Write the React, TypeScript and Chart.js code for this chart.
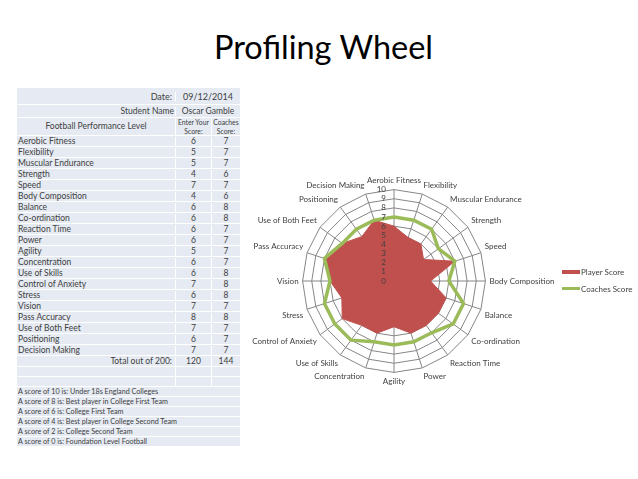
import { useEffect, useRef } from 'react'
import { Chart, registerables } from 'chart.js'

Chart.register(...registerables)

const categories = [
  'Aerobic Fitness', 'Flexibility', 'Muscular Endurance', 'Strength', 'Speed',
  'Body Composition', 'Balance', 'Co-ordination', 'Reaction Time', 'Power',
  'Agility', 'Concentration', 'Use of Skills', 'Control of Anxiety', 'Stress',
  'Vision', 'Pass Accuracy', 'Use of Both Feet', 'Positioning', 'Decision Making',
]
const playerScores = [6, 5, 5, 4, 7, 4, 6, 6, 6, 6, 5, 6, 6, 7, 6, 7, 8, 7, 6, 7]
const coachScores = [7, 7, 7, 6, 7, 6, 8, 8, 7, 7, 7, 7, 8, 8, 8, 7, 8, 7, 7, 7]
const seriesNames = ['Player Score', 'Coaches Score']
const seriesColors = ['#c0504d', '#9bbb59']
const scoreKey = [
  'A score of 10 is: Under 18s England Colleges',
  'A score of 8 is: Best player in College First Team',
  'A score of 6 is: College First Team',
  'A score of 4 is: Best player in College Second Team',
  'A score of 2 is: College Second Team',
  'A score of 0 is: Foundation Level Football',
]

const FONT = 'Lato, "Open Sans", sans-serif'
const TXT = '#404040'

// tick numbers sit just left of the vertical axis, "0" included
const tickText = {
  id: 'tickText',
  afterDatasetsDraw(chart: Chart) {
    const s: any = chart.scales.r
    const ctx = chart.ctx
    ctx.save()
    ctx.font = `8px ${FONT}`
    ctx.fillStyle = TXT
    ctx.textAlign = 'right'
    ctx.textBaseline = 'middle'
    s.ticks.forEach((t: any) => {
      const d = s.getDistanceFromCenterForValue(t.value)
      ctx.fillText(String(t.value), s.xCenter - 8, s.yCenter - d)
    })
    ctx.restore()
  },
}

function Radar() {
  const ref = useRef<HTMLCanvasElement>(null)
  const chartRef = useRef<Chart | null>(null)

  useEffect(() => {
    if (!ref.current) return
    if (chartRef.current) chartRef.current.destroy()

    chartRef.current = new Chart(ref.current, {
      type: 'radar',
      data: {
        labels: categories,
        datasets: [
          {
            label: seriesNames[0],
            data: playerScores,
            backgroundColor: seriesColors[0],
            borderColor: seriesColors[0],
            borderWidth: 1,
            pointRadius: 0,
            fill: true,
            order: 1,
          },
          {
            label: seriesNames[1],
            data: coachScores,
            borderColor: seriesColors[1],
            backgroundColor: seriesColors[1],
            borderWidth: 3.5,
            pointRadius: 0,
            fill: false,
            order: 0,
          },
        ],
      },
      options: {
        animation: false,
        responsive: true,
        maintainAspectRatio: false,
        layout: { padding: 0 },
        scales: {
          r: {
            min: 0,
            max: 10,
            ticks: { stepSize: 1, display: false },
            grid: { color: '#868686', lineWidth: 1 },
            angleLines: { color: '#868686', lineWidth: 1 },
            pointLabels: { color: TXT, font: { family: FONT, size: 8 }, padding: 4 },
          },
        },
        plugins: {
          tooltip: { enabled: false },
          legend: { display: false },
        },
      },
      plugins: [tickText],
    })

    return () => { chartRef.current?.destroy() }
  }, [])

  return (
    <div style={{ position: 'absolute', left: 214, top: 176, width: 360, height: 210 }}>
      <canvas ref={ref} />
    </div>
  )
}

function Legend() {
  return (
    <div style={{ position: 'absolute', left: 562, top: 266, fontSize: 8, color: TXT }}>
      {seriesNames.map((n, i) => (
        <div key={n} style={{ display: 'flex', alignItems: 'center', height: 11, marginBottom: 6 }}>
          <span style={{ width: 18, height: i === 0 ? 4 : 3.5, background: seriesColors[i], marginRight: 1 }} />
          <span style={{ whiteSpace: 'nowrap' }}>{n}</span>
        </div>
      ))}
    </div>
  )
}

const cell = (w: number, extra: any = {}) => ({
  width: w,
  boxSizing: 'border-box' as const,
  borderLeft: '1px solid #fff',
  overflow: 'visible',
  whiteSpace: 'nowrap' as const,
  ...extra,
})

function Table() {
  const row = (h: number, extra: any = {}) => ({
    display: 'flex',
    height: h,
    boxSizing: 'border-box' as const,
    borderBottom: '1px solid #fff',
    alignItems: 'center',
    ...extra,
  })
  const total = (a: number[]) => a.reduce((s, v) => s + v, 0)
  return (
    <div style={{
      position: 'absolute', left: 17, top: 88, width: 223, background: '#e6ebf3',
      fontSize: 8.5, color: TXT, lineHeight: '9px',
    }}>
      <div style={row(17)}>
        <div style={cell(158, { borderLeft: 'none', textAlign: 'right', paddingRight: 3, fontSize: 9 })}>Date:</div>
        <div style={cell(65, { textAlign: 'center', fontSize: 9 })}>09/12/2014</div>
      </div>
      <div style={row(13)}>
        <div style={cell(158, { borderLeft: 'none', textAlign: 'right', paddingRight: 1 })}>Student Name</div>
        <div style={cell(65, { textAlign: 'center' })}>Oscar Gamble</div>
      </div>
      <div style={row(18)}>
        <div style={cell(158, { borderLeft: 'none', textAlign: 'center' })}>Football Performance Level</div>
        <div style={cell(36, { textAlign: 'center', fontSize: 6.8, lineHeight: '8.5px' })}>Enter Your<br />Score:</div>
        <div style={cell(29, { textAlign: 'center', fontSize: 6.8, lineHeight: '8.5px' })}>Coaches<br />Score:</div>
      </div>
      {categories.map((c, i) => (
        <div key={c} style={row(11)}>
          <div style={cell(158, { borderLeft: 'none', paddingLeft: 1 })}>{c}</div>
          <div style={cell(36, { textAlign: 'center' })}>{playerScores[i]}</div>
          <div style={cell(29, { textAlign: 'center' })}>{coachScores[i]}</div>
        </div>
      ))}
      <div style={row(11)}>
        <div style={cell(158, { borderLeft: 'none', textAlign: 'right', paddingRight: 3 })}>Total out of 200:</div>
        <div style={cell(36, { textAlign: 'center' })}>{total(playerScores)}</div>
        <div style={cell(29, { textAlign: 'center' })}>{total(coachScores)}</div>
      </div>
      {[0, 1].map(k => (
        <div key={k} style={row(10)}>
          <div style={cell(158, { borderLeft: 'none', height: '100%' })} />
          <div style={cell(36, { height: '100%' })} />
          <div style={cell(29, { height: '100%' })} />
        </div>
      ))}
      {scoreKey.map(t => (
        <div key={t} style={row(10)}>
          <div style={cell(223, { borderLeft: 'none', paddingLeft: 1, fontSize: 7.2 })}>{t}</div>
        </div>
      ))}
    </div>
  )
}

export default function App() {
  return (
    <div style={{
      position: 'absolute', left: 0, top: 0, width: 638, height: 479,
      background: '#fff', fontFamily: FONT, overflow: 'hidden',
    }}>
      <div style={{
        position: 'absolute', left: 0, top: 27, width: 647, textAlign: 'center',
        fontSize: 32.5, lineHeight: '39px', color: '#000',
      }}>
        Profiling Wheel
      </div>
      <Table />
      <Radar />
      <Legend />
    </div>
  )
}
